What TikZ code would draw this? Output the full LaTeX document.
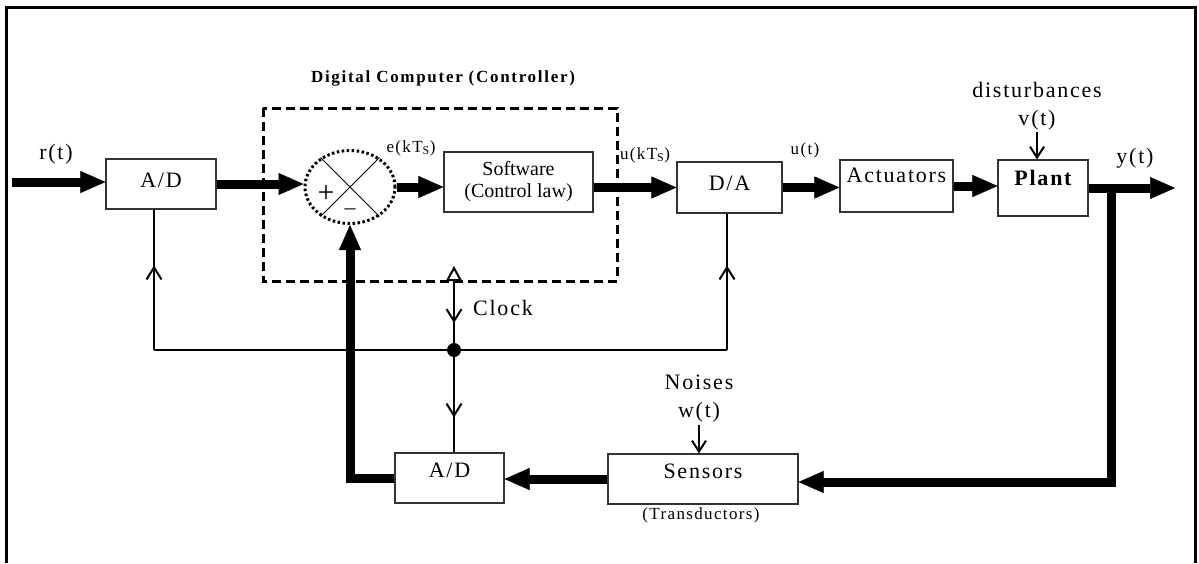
\documentclass[tikz,border=0pt]{standalone}
\usepackage{fontspec}
\setmainfont{Liberation Serif}[LetterSpace=8]
\usetikzlibrary{arrows.meta,positioning,shapes.geometric,decorations.markings}
\newcommand{\boxfont}{\fontsize{22}{28}\selectfont}
\newcommand{\sigfont}{\fontsize{17}{20}\selectfont}
\newcommand{\swfont}{\fontsize{20}{22}\selectfont\addfontfeatures{LetterSpace=0}}
\newcommand{\headfont}{\fontsize{17}{20}\selectfont\bfseries\addfontfeatures{LetterSpace=10}}

\tikzset{
  blockbox/.style={draw=black!80, line width=1.1pt, minimum height=50pt, inner sep=0pt,
    text height=15pt, text depth=4pt, font=\boxfont},
  bigarrow/.style={line width=9pt, -{Triangle[length=25pt,width=22pt,line width=0.5pt]}},
  sigline/.style={line width=2pt},
  sigtip/.style={-{Straight Barb[length=11pt,width=14pt]}},
  midarrow/.style={postaction={decorate}, decoration={markings,
    mark=at position #1 with {\arrow{Straight Barb[length=12pt,width=15pt]}}}},
  junction/.style={circle, fill=black, inner sep=0pt, minimum size=14pt},
}

\begin{document}
\begin{tikzpicture}[x=1pt, y=-1pt, font=\boxfont]
  \useasboundingbox (0,0) rectangle (1199,563);
  % --- outer frame
  \draw[line width=3pt] (6.5,563) -- (6.5,7.5) -- (1195,7.5) -- (1195,563);
  % --- digital computer
  \draw[line width=3pt, dash pattern=on 9pt off 5pt] (263,108) rectangle (617,281);
  \node[font=\headfont] (ctrl) at (443,78) {Digital Computer (Controller)};
  % --- blocks
  \node[blockbox, minimum width=110pt, text depth=8pt] (ad1) at (161,184) {A/D};
  \node[ellipse, draw, line width=3pt, dash pattern=on 2.5pt off 2.5pt, inner sep=0pt,
    minimum width=90pt, minimum height=73pt] (sum) at (350,187) {};
  \draw[line width=1pt] (sum.135) -- (sum.-45);
  \draw[line width=1pt] (sum.45) -- (sum.-135);
  \node[font=\fontsize{30}{30}\selectfont] (plus) at (326,194) {+};
  \node (minus) at (350,212) {–};
  \node[blockbox, minimum width=149pt, minimum height=60pt, align=center,
    text height=, text depth=, font=\swfont] (sw) at (518.5,182) {Software\\(Control law)};
  \node[blockbox, minimum width=105pt, minimum height=51pt, text depth=9pt] (da) at (729.5,187.5) {D/A};
  \node[blockbox, minimum width=113pt, minimum height=52pt, text depth=22pt] (act) at (896.5,186) {Actuators};
  \node[blockbox, minimum width=90pt, minimum height=56pt, text depth=20pt,
    font=\boxfont\bfseries] (plant) at (1043,188) {Plant};
  \node[blockbox, minimum width=190pt, text depth=16pt] (sens) at (703,479) {Sensors};
  \node[blockbox, minimum width=109pt, text depth=16pt] (ad2) at (449.5,478) {A/D};
  % --- main loop
  \coordinate (rin) at (12,182);
  \coordinate (yout) at (1175,188);
  \coordinate (br) at (1111,188);
  \coordinate (brd) at (1111,482);
  \draw[bigarrow] (rin) -- (rin -| ad1.west);
  \draw[bigarrow] (ad1.east) -- (ad1.east -| sum.west);
  \draw[bigarrow] (sum.east) -- (sum.east -| sw.west);
  \draw[bigarrow] (sw.east |- da.west) -- (da.west);
  \draw[bigarrow] (da.east) -- (da.east -| act.west);
  \draw[bigarrow] (act.east) -- (act.east -| plant.west);
  \draw[bigarrow] (plant.east) -- (yout);
  \draw[bigarrow] (br) -- (brd) -- (brd -| sens.east);
  \draw[bigarrow] (sens.west) -- (sens.west -| ad2.east);
  \draw[bigarrow] (ad2.west) -- (ad2.west -| sum.south) -- (sum.south);
  % --- clock
  \coordinate (clk) at (454,266);
  \coordinate (jn) at (454,350);
  \coordinate (ckl) at (154,350);
  \coordinate (ckr) at (727,350);
  \draw[sigline, {Triangle[open,length=15pt,width=16pt]}-, midarrow=-27pt] (clk) -- (jn);
  \draw[sigline, midarrow=-35pt] (jn) -- (jn |- ad2.north);
  \draw[sigline] (ckl) -- (ckr);
  \draw[sigline, midarrow=-56pt] (ckl) -- (ckl |- ad1.south);
  \draw[sigline, midarrow=-52pt] (ckr) -- (ckr |- da.south);
  \node[junction] (dot) at (jn) {};
  \node (clock) at (503,308) {Clock};
  % --- signals
  \node (rt) at (56,154) {r(t)};
  \node[font=\sigfont] (ekt) at (411,148) {e(kT\textsubscript{S})};
  \node[font=\sigfont] (ukt) at (645,155) {u(kT\textsubscript{S})};
  \node[font=\sigfont] (ut) at (805,150) {u(t)};
  \node (yt) at (1135,158) {y(t)};
  \node[align=center, inner sep=2pt] (dist) at (1037,106) {disturbances\\v(t)};
  \draw[sigline, sigtip] (dist.south) -- (dist.south |- plant.north);
  \node[align=center, inner sep=2pt] (noise) at (699,399) {Noises\\w(t)};
  \draw[sigline, sigtip] (noise.south) -- (noise.south |- sens.north);
  \node[font=\sigfont] (trans) at (701,515) {(Transductors)};
\end{tikzpicture}
\end{document}
